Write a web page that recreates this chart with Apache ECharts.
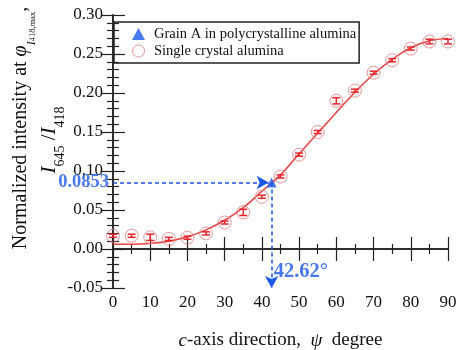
<!DOCTYPE html>
<html>
<head>
<meta charset="utf-8">
<script src="https://cdn.jsdelivr.net/npm/echarts@6/dist/echarts.min.js"></script>
<style>
  html, body { margin: 0; padding: 0; background: #fff; }
  #chart { width: 457px; height: 350px; }
</style>
</head>
<body>
<div id="chart"></div>
<script>
// c-axis direction (degree) and measured normalized intensity
const psi = [0, 5, 10, 15, 20, 25, 30, 35, 40, 45, 50, 55, 60, 65, 70, 75, 80, 85, 90]
const intensity = [0.017, 0.017, 0.015, 0.013, 0.0145, 0.020, 0.034, 0.047, 0.067, 0.093, 0.121, 0.150, 0.190, 0.203, 0.226, 0.242, 0.257, 0.266, 0.266]
const errors = [0.002, 0.002, 0.004, 0.002, 0.002, 0.002, 0.002, 0.004, 0.002, 0.002, 0.002, 0.002, 0.004, 0.002, 0.002, 0.002, 0.002, 0.003, 0.003]

// fitted curve
const fitPsi = [0, 5, 10, 15, 20, 25, 30, 35, 40, 45, 50, 55, 60, 65, 70, 75, 80, 85, 90]
const fitValues = [0.006, 0.0061, 0.0072, 0.010, 0.0156, 0.0245, 0.037, 0.053, 0.0740, 0.095, 0.122, 0.1486, 0.175, 0.201, 0.224, 0.243, 0.258, 0.267, 0.270]

// grain A in polycrystalline alumina
const grainPsi = 42.62
const grainValue = 0.0853

const RED = '#e8242a'
const BLUE = '#1a56e8'
const SERIF = '"Liberation Serif", "Times New Roman", serif'

const chart = echarts.init(document.getElementById('chart'))

function errorBar(params, api) {
  const x = api.value(0)
  const lo = api.coord([x, api.value(1) - api.value(2)])
  const hi = api.coord([x, api.value(1) + api.value(2)])
  const w = 4
  const style = { stroke: RED, lineWidth: 1.5 }
  return {
    type: 'group',
    children: [
      { type: 'line', shape: { x1: lo[0], y1: lo[1], x2: hi[0], y2: hi[1] }, style },
      { type: 'line', shape: { x1: lo[0] - w, y1: lo[1], x2: lo[0] + w, y2: lo[1] }, style },
      { type: 'line', shape: { x1: hi[0] - w, y1: hi[1], x2: hi[0] + w, y2: hi[1] }, style },
    ],
  }
}

const axisLine = { show: true, lineStyle: { color: '#222', width: 1.5 } }
const tickStyle = { color: '#222', width: 1.2 }

chart.setOption({
  animation: false,
  grid: { left: 113, right: 9, top: 15, bottom: 62, outerBoundsMode: 'none', containLabel: false },
  legend: {
    left: 114,
    top: 22,
    orient: 'vertical',
    padding: [4, 3, 4, 18],
    itemGap: 1,
    itemWidth: 13,
    itemHeight: 12,
    borderColor: '#222',
    borderWidth: 1.5,
    textStyle: { fontFamily: SERIF, fontSize: 14.5, lineHeight: 16, color: '#111', padding: [0, 0, 0, 4] },
    data: [
      { name: 'Grain A in polycrystalline alumina', icon: 'triangle', itemStyle: { color: BLUE } },
      { name: 'Single crystal alumina', icon: 'circle', itemStyle: { color: '#fff', borderColor: '#e07a7a', borderWidth: 1 } },
    ],
  },
  xAxis: [{
    type: 'value',
    min: 0, max: 90, interval: 10,
    axisLine,
    axisTick: { inside: true, length: 12, lineStyle: tickStyle },
    minorTick: { show: true, splitNumber: 2, length: 5, lineStyle: tickStyle },
    splitLine: { show: false },
    axisLabel: { fontFamily: SERIF, fontSize: 17, color: '#111', margin: 6 },
    name: '{i|c}{n|-axis direction,  }{i|ψ}{n|  degree}',
    nameLocation: 'middle',
    nameGap: 43,
    nameTextStyle: {
      rich: {
        i: { fontFamily: SERIF, fontSize: 19, fontStyle: 'italic', color: '#111' },
        n: { fontFamily: SERIF, fontSize: 19, color: '#111' },
      },
    },
  }, {
    type: 'value',
    position: 'top',
    min: 0, max: 90, interval: 10,
    axisLine,
    axisTick: { inside: true, length: 12, lineStyle: tickStyle },
    minorTick: { show: true, splitNumber: 2, length: 5, lineStyle: tickStyle },
    splitLine: { show: false },
    axisLabel: { show: false },
  }],
  yAxis: [{
    type: 'value',
    min: -0.05, max: 0.30, interval: 0.05,
    axisLine,
    axisTick: { inside: true, length: 12, lineStyle: tickStyle },
    minorTick: { show: true, splitNumber: 5, length: 6, lineStyle: tickStyle },
    splitLine: { show: false },
    axisLabel: {
      fontFamily: SERIF, fontSize: 17, color: '#111', margin: 10,
      formatter: v => (Math.abs(v) < 1e-9 ? 0 : v).toFixed(2),
    },
  }, {
    type: 'value',
    position: 'right',
    min: -0.05, max: 0.30, interval: 0.05,
    axisLine,
    axisTick: { inside: true, length: 12, lineStyle: tickStyle },
    minorTick: { show: true, splitNumber: 5, length: 6, lineStyle: tickStyle },
    splitLine: { show: false },
    axisLabel: { show: false },
  }],
  graphic: [{
    type: 'text',
    x: 24, y: 128,
    rotation: Math.PI / 2,
    style: {
      text: '{n|Normalized intensity at }{g|φ}{s|I}{ss|418,max}{n|,}',
      align: 'center',
      verticalAlign: 'middle',
      rich: {
        n: { fontFamily: SERIF, fontSize: 20, lineHeight: 27, verticalAlign: 'top', fill: '#111' },
        g: { fontFamily: SERIF, fontSize: 20, lineHeight: 27, verticalAlign: 'top', fontStyle: 'italic', fill: '#111' },
        s: { fontFamily: SERIF, fontSize: 12, lineHeight: 14, verticalAlign: 'bottom', fontStyle: 'italic', fill: '#111' },
        ss: { fontFamily: SERIF, fontSize: 8.5, lineHeight: 9, verticalAlign: 'bottom', fill: '#111' },
      },
    },
  }, {
    type: 'text',
    x: 53, y: 140,
    rotation: Math.PI / 2,
    style: {
      text: '{i|I}{s|645}{n| /}{i|I}{s|418}',
      align: 'center',
      verticalAlign: 'middle',
      rich: {
        i: { fontFamily: SERIF, fontSize: 21, lineHeight: 28, verticalAlign: 'top', fontStyle: 'italic', fill: '#111' },
        n: { fontFamily: SERIF, fontSize: 21, lineHeight: 28, verticalAlign: 'top', fill: '#111' },
        s: { fontFamily: SERIF, fontSize: 14, lineHeight: 16, verticalAlign: 'bottom', fill: '#111' },
      },
    },
  }],
  series: [
    {
      name: 'fit',
      type: 'line',
      smooth: true,
      showSymbol: false,
      data: fitPsi.map((x, i) => [x, fitValues[i]]),
      lineStyle: { color: '#e84040', width: 1.5 },
      z: 2,
    },
    {
      name: 'errors',
      type: 'custom',
      renderItem: errorBar,
      data: psi.map((x, i) => [x, intensity[i], errors[i]]),
      z: 3,
    },
    {
      name: 'Single crystal alumina',
      type: 'scatter',
      symbol: 'circle',
      symbolSize: 13,
      data: psi.map((x, i) => [x, intensity[i]]),
      itemStyle: { color: 'rgba(0,0,0,0)', borderColor: '#e07a7a', borderWidth: 1 },
      clip: false,
      z: 4,
    },
    {
      name: 'Grain A in polycrystalline alumina',
      type: 'scatter',
      symbol: 'triangle',
      symbolSize: 10,
      data: [[grainPsi, grainValue]],
      itemStyle: { color: BLUE },
      z: 5,
      markLine: {
        silent: true,
        symbol: ['none', 'arrow'],
        symbolSize: [10, 12],
        label: { show: false },
        lineStyle: { color: BLUE, type: [4, 3], width: 1.5 },
        data: [
          [{ coord: [0, grainValue] }, { coord: [grainPsi - 0.8, grainValue] }],
          [{ coord: [grainPsi, grainValue] }, { coord: [grainPsi, -0.05] }],
        ],
      },
    },
    {
      name: 'labels',
      type: 'scatter',
      symbolSize: 0,
      clip: false,
      data: [
        { value: [0, grainValue], label: { position: 'left', distance: 4, fontSize: 18.5, formatter: String(grainValue) } },
        { value: [grainPsi, -0.0295], label: { position: 'right', distance: 2, fontSize: 20.5, formatter: grainPsi + '°' } },
      ],
      label: { show: true, fontFamily: SERIF, fontWeight: 'bold', color: BLUE },
      z: 6,
    },
  ],
})
</script>
</body>
</html>
